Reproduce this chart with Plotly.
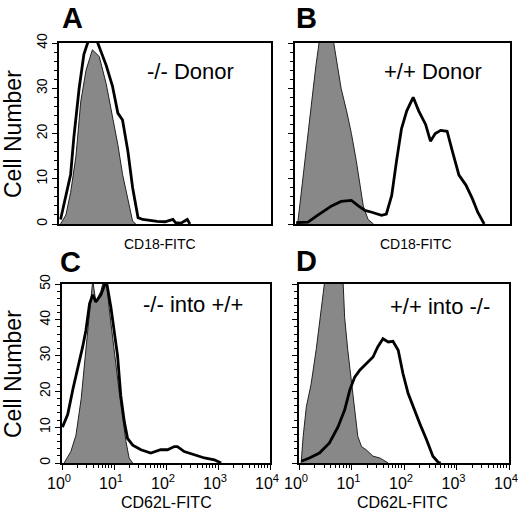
import plotly.graph_objects as go

# Flow cytometry histograms, 4 panels (A, B top / C, D bottom)
# x = fluorescence intensity (log scale), y = cell number

# Panel A: CD18-FITC, -/- donor
a_fill_x = [1.07, 1.35, 1.66, 2.09, 2.57, 3.24, 4.27, 5.75, 7.76, 10.2, 12.9, 15.8, 20, 24.5, 28.2]
a_fill_y = [0, 2, 7, 15, 27, 34, 38.5, 37, 31, 24, 17.5, 11, 5, 0.6, 0]
a_open_x = [1.07, 1.35, 1.66, 1.9, 2.4, 2.95, 3.7, 5.0, 6.2, 7.8, 10.2, 12.9, 15.8, 20, 24.5, 31, 38, 50, 71, 100, 141, 158, 200, 263, 295]
a_open_y = [1, 6, 11, 19, 30, 37.5, 41, 41, 38, 35, 30.5, 24.5, 23, 16, 8, 1.4, 1, 0.8, 0.6, 0.5, 1, 0.3, 0.2, 1, 0]

# Panel B: CD18-FITC, +/+ donor
b_fill_x = [1.12, 1.29, 1.62, 2.0, 2.45, 2.88, 5.1, 5.9, 7.2, 9.1, 11.2, 13.8, 16.2, 18.6, 22.9, 28.8]
b_fill_y = [0, 6, 16, 26, 35, 41, 41, 36, 30, 25, 20, 14, 8, 4, 1, 0]
b_open_x = [1.05, 1.74, 2.7, 3.55, 4.8, 7.2, 11.2, 15.1, 20, 26.9, 40.7, 50, 63, 77.6, 95.5, 120, 158, 200, 269, 331, 407, 513, 676, 851, 1122, 1514, 1995, 2512, 3311]
b_open_y = [0.3, 0.4, 2, 3, 4, 5, 5.2, 4, 3, 2.6, 1.9, 2.2, 6.3, 14, 21, 25, 28, 25, 22, 18.3, 20, 20.7, 20.5, 16, 10.8, 8.6, 5.6, 2.6, 0]

# Panel C: CD62L-FITC, -/- into +/+
c_fill_x = [1.1, 1.48, 1.86, 2.34, 2.88, 3.39, 3.9, 4.47, 5.6, 6.3, 7.1, 8.1, 9.3, 11, 12.6, 14.8, 17, 19.5, 22.9]
c_fill_y = [0, 3.2, 7.8, 18, 31.6, 43.5, 51, 45, 48, 51, 51, 43, 35, 27, 19.7, 11.5, 6, 1.4, 0]
c_open_x = [1.02, 1.29, 1.62, 2.0, 2.5, 2.88, 3.39, 3.9, 4.47, 5.6, 7.1, 8.7, 10.2, 11.7, 13.5, 15.8, 18.2, 22.9, 33, 51, 79, 107, 145, 166, 224, 347, 550, 851, 1148]
c_open_y = [10, 13.6, 20.6, 26, 32.5, 37, 44.5, 47, 45, 47, 51, 43.6, 37, 30, 18.8, 11.5, 6.9, 5, 3.7, 2.8, 3.7, 3.7, 4.6, 4.6, 3.2, 2.3, 1.4, 0.9, 0]

# Panel D: CD62L-FITC, +/+ into -/-
d_fill_x = [1.1, 1.2, 1.38, 1.7, 2.14, 2.7, 3.1, 6.9, 7.4, 8.5, 10, 11.5, 13.2, 15.5, 19, 25.7, 34.7, 50]
d_fill_y = [0, 7.4, 15.7, 22, 32, 45, 51, 51, 40.7, 31.5, 22, 14, 7.4, 4.6, 3.7, 1.9, 1.4, 0]
d_open_x = [1.1, 1.58, 2.45, 3.8, 5.5, 7.4, 9.3, 11.5, 14.5, 19, 25.7, 31.6, 39.8, 50, 61.7, 77.6, 95.5, 120, 148, 200, 269, 355, 447, 500]
d_open_y = [0.5, 1.4, 2.8, 5.6, 10, 14.8, 20.4, 24, 26, 27.8, 29.6, 32.4, 34.7, 33.8, 34, 31.5, 25, 19.4, 15.7, 11, 6.5, 1.9, 0.2, 0]

panel_letters = ["A", "B", "C", "D"]
panel_texts = ["-/- Donor", "+/+ Donor", "-/- into +/+", "+/+ into -/-"]
top_xlabel = "CD18-FITC"
bottom_xlabel = "CD62L-FITC"
ylabel = "Cell Number"
log_ticks = [1, 10, 100, 1000, 10000]
log_ticktext = ["10<sup>0</sup>", "10<sup>1</sup>", "10<sup>2</sup>", "10<sup>3</sup>", "10<sup>4</sup>"]
minor_ticks = [m * 10 ** e for e in range(4) for m in range(2, 10)]

W, H = 520, 510
FONT = "Liberation Sans, Arial, sans-serif"
GRAY = "#888888"


def px(x):
    return x / W


def py(y):
    return 1 - y / H


fig = go.Figure()

panels = [
    (a_fill_x, a_fill_y, a_open_x, a_open_y),
    (b_fill_x, b_fill_y, b_open_x, b_open_y),
    (c_fill_x, c_fill_y, c_open_x, c_open_y),
    (d_fill_x, d_fill_y, d_open_x, d_open_y),
]

for i, (fx, fy, ox, oy) in enumerate(panels):
    ax = "" if i == 0 else str(i + 1)
    fig.add_trace(go.Scatter(x=fx, y=fy, xaxis="x" + ax, yaxis="y" + ax, mode="lines",
                             fill="tozeroy", fillcolor=GRAY,
                             line=dict(color="#222", width=1), showlegend=False))
    fig.add_trace(go.Scatter(x=ox, y=oy, xaxis="x" + ax, yaxis="y" + ax, mode="lines",
                             line=dict(color="black", width=2.8), showlegend=False))

# pixel boxes of each panel: (left, right, top, bottom)
boxes = [(59, 271, 43, 224), (295, 510, 43, 224), (62, 270, 284, 463), (299, 509, 284, 463)]
ymax = [40, 40, 50, 50]

layout = dict(width=W, height=H, margin=dict(l=0, r=0, t=0, b=0, autoexpand=False),
              paper_bgcolor="white", plot_bgcolor="white", template="none",
              font=dict(family=FONT, color="black"))

for i, (l, r, t, b) in enumerate(boxes):
    ax = "" if i == 0 else str(i + 1)
    bottom_row = i >= 2
    xa = dict(type="log", range=[0, 4], domain=[px(l), px(r)], anchor="y" + ax,
              showgrid=False, zeroline=False, showline=True, linecolor="black",
              linewidth=1.6, mirror=True, fixedrange=True, automargin=False)
    if bottom_row:
        xa.update(tickvals=log_ticks, ticktext=log_ticktext, ticks="outside",
                  ticklen=5, tickwidth=1.2, tickcolor="black",
                  tickfont=dict(size=16), tickangle=0, ticklabeloverflow="allow",
                  ticklabelshift=-3, ticklabelstandoff=0,
                  minor=dict(tickvals=minor_ticks, ticks="outside", ticklen=3,
                             tickwidth=1, tickcolor="black"))
    else:
        xa.update(showticklabels=False, ticks="")
    ya = dict(range=[0, ymax[i]], domain=[py(b), py(t)], anchor="x" + ax,
              showgrid=False, zeroline=False, showline=True, linecolor="black",
              linewidth=1.6, mirror=True, fixedrange=True, automargin=False,
              dtick=10, ticks="outside", ticklen=5, tickwidth=1.2, tickcolor="black",
              tickangle=-90, tickfont=dict(size=14),
              showticklabels=(i % 2 == 0),
              minor=dict(dtick=2, ticks="outside", ticklen=3, tickwidth=1, tickcolor="black"))
    layout["xaxis" + ax] = xa
    layout["yaxis" + ax] = ya

fig.update_layout(**layout)

# text: panel letters, sample labels, axis labels
letter_pos = [(72, 18), (306, 18), (70, 262), (306, 261)]
text_pos = [(190, 72), (433, 72), (193, 304), (440, 306)]
xlabel_pos = [(160, 244), (416, 244), (166, 502), (402, 502)]
xlabels = [top_xlabel, top_xlabel, bottom_xlabel, bottom_xlabel]

for i in range(4):
    fig.add_annotation(x=px(letter_pos[i][0]), y=py(letter_pos[i][1]), xref="paper", yref="paper",
                       text="<b>" + panel_letters[i] + "</b>", showarrow=False,
                       font=dict(size=29, family=FONT), xanchor="center", yanchor="middle")
    fig.add_annotation(x=px(text_pos[i][0]), y=py(text_pos[i][1]), xref="paper", yref="paper",
                       text=panel_texts[i], showarrow=False,
                       font=dict(size=22, family=FONT), xanchor="center", yanchor="middle")
    fig.add_annotation(x=px(xlabel_pos[i][0]), y=py(xlabel_pos[i][1]), xref="paper", yref="paper",
                       text=xlabels[i], showarrow=False,
                       font=dict(size=14 if i < 2 else 16, family=FONT),
                       xanchor="center", yanchor="middle")

for yc in [134, 374]:
    fig.add_annotation(x=px(13), y=py(yc), xref="paper", yref="paper", text=ylabel,
                       textangle=-90, showarrow=False, font=dict(size=23, family=FONT),
                       xanchor="center", yanchor="middle")

# drop the default page margin so the figure sits at the window's corner
fig.write_html("out.html", config={"displayModeBar": False},
               post_script="document.body.style.margin='0';")
